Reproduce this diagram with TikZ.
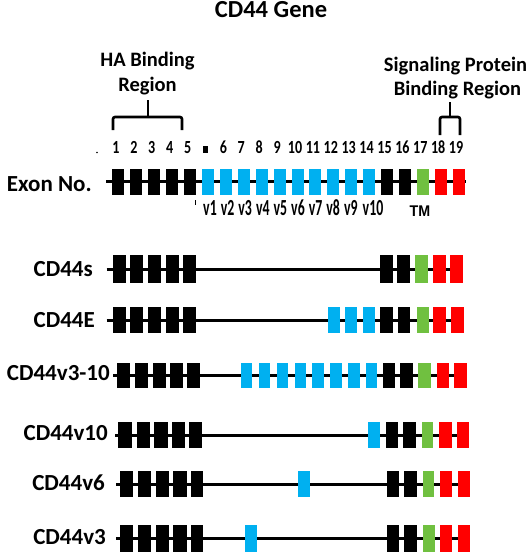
\documentclass[tikz,border=0pt]{standalone}
\usepackage{fontspec}
\setmainfont{Carlito}
\newfontfamily\narrowf[FakeStretch=0.76]{Carlito}
\newfontfamily\vnarrowf[FakeStretch=0.6]{Carlito}
\newfontfamily\tmfont[FakeStretch=0.92]{Liberation Sans}
\definecolor{exblue}{RGB}{0,176,240}
\definecolor{exgreen}{RGB}{112,192,64}
\definecolor{exred}{RGB}{255,0,0}
\begin{document}
\begin{tikzpicture}[x=1pt,y=-1pt,
  rowlbl/.style={font=\fontsize{23}{26}\selectfont\bfseries, inner sep=0pt, anchor=base east},
  headlbl/.style={font=\fontsize{20.5}{24}\selectfont\bfseries, inner sep=0pt, anchor=base},
  numlbl/.style={font=\narrowf\fontsize{18.5}{20}\selectfont\bfseries, inner sep=0pt, anchor=base},
  vlbl/.style={font=\vnarrowf\fontsize{23}{25}\selectfont\bfseries, inner sep=0pt, anchor=base},
  backbone/.style={line width=3pt, black},
  brace/.style={line width=2.6pt, black, rounded corners=2pt}]
\useasboundingbox (0,0) rectangle (529,557);
\fill[white] (0,0) rectangle (529,557);

% title
\node[font=\fontsize{24.5}{28}\selectfont\bfseries, inner sep=0pt, anchor=base] (title) at (271,17.5) {CD44 Gene};

% region headings and brackets
\node[headlbl] (ha1) at (147.5,66.5) {HA Binding};
\node[headlbl] (ha2) at (147.5,91.7) {Region};
\node[headlbl] (sp1) at (455.5,71.7) {Signaling Protein};
\node[headlbl] (sp2) at (457.5,95) {Binding Region};
\coordinate (hat) at (148,100);
\coordinate (spt) at (450,102);
\draw[brace] (113,130) -- (113,117) -- (182,117) -- (182,130);
\draw[line width=2.6pt] (hat) -- (148,117);
\draw[brace] (440,135) -- (440,117) -- (460,117) -- (460,135);
\draw[line width=2.6pt] (spt) -- (450,117);

% exon numbers
\fill (97,152.5) circle (0.9);
\foreach \n in {1,...,5}
  \node[numlbl] (n\n) at ({116+17.9*(\n-1)},153.3) {\n};
\fill (202.7,146) rectangle (207.7,152.7);
\foreach \n in {6,...,19}
  \node[numlbl] (n\n) at ({116+17.9*\n},153.3) {\n};

% exon row
\node[font=\fontsize{23}{26}\selectfont\bfseries, inner sep=0pt, anchor=base west] (exon) at (6.7,191.5) {Exon No.};
\draw[backbone] (106,181.7) -- (466,181.7);
\foreach \i/\c in {0/black,1/black,2/black,3/black,4/black,5/exblue,6/exblue,7/exblue,8/exblue,9/exblue,10/exblue,11/exblue,12/exblue,13/exblue,14/exblue,15/black,16/black,17/exgreen,18/exred,19/exred}
  \fill[\c] ({111.7+17.98*\i},168.5) rectangle ++(12,26.3);
\draw[line width=0.8pt] (195,200) -- (195,204.5);
\foreach \k in {1,...,9}
  \node[vlbl] (v\k) at ({210+17.6*(\k-1)},215.5) {v\k};
\node[vlbl] (v10) at (373,215.5) {v10};
\node[font=\tmfont\fontsize{15.5}{17}\selectfont\bfseries, inner sep=0pt, anchor=base] (tm) at (420,216.5) {TM};

% CD44s
\node[rowlbl] (s) at (93,276.7) {CD44s};
\draw[backbone] (106.7,269) -- (462,269);
\foreach \x/\c in {112.7/black,130/black,147.7/black,165.7/black,183/black,380/black,397/black,415/exgreen,432.7/exred,450/exred}
  \fill[\c] (\x,255) rectangle ++(13,28);

% CD44E
\node[rowlbl] (e) at (95,327.3) {CD44E};
\draw[backbone] (106.7,320) -- (463,320);
\foreach \x/\c/\w in {112.7/black/13,130/black/13,147.7/black/13,165.7/black/13,183/black/13,328/exblue/12,345/exblue/12,362.7/exblue/12,380/black/12.5,397.7/black/12.5,416.7/exgreen/12,433/exred/12.5,451/exred/12.5}
  \fill[\c] (\x,306.7) rectangle ++(\w,26.6);

% CD44v3-10
\node[rowlbl] (v310) at (110,380.7) {CD44v3-10};
\draw[backbone] (113.3,375.5) -- (466,375.5);
\foreach \x/\c/\w in {116.7/black/13,135/black/13,152.7/black/13,170/black/13,187/black/13,240.7/exblue/11.5,258.7/exblue/11.5,276.7/exblue/11.5,294.7/exblue/11.5,312/exblue/11.5,330/exblue/11.5,348/exblue/11.5,365.7/exblue/11.5,382.7/black/12.5,400/black/12.5,418/exgreen/12.5,436.7/exred/12.5,454/exred/12.5}
  \fill[\c] (\x,363) rectangle ++(\w,25);

% CD44v10
\node[rowlbl] (v10r) at (108,440) {CD44v10};
\draw[backbone] (115,435) -- (469,435);
\foreach \x/\c/\w in {118.3/black/13.3,136.7/black/13.3,154.3/black/13.3,172/black/13.3,189.3/black/13,368.3/exblue/11.7,385.7/black/12.6,403.3/black/12.6,421.7/exgreen/11.6,439.3/exred/12.4,456.7/exred/12.6}
  \fill[\c] (\x,421.7) rectangle ++(\w,26.6);

% CD44v6
\node[rowlbl] (v6r) at (105,490) {CD44v6};
\draw[backbone] (116,484) -- (470,484);
\foreach \x/\c/\w in {120/black/13.3,137.7/black/13.3,155.7/black/13.3,173.3/black/13.3,190.7/black/12.6,297.7/exblue/12.3,386.7/black/12.6,404.3/black/12.4,422.7/exgreen/11.6,440/exred/12.3,457.7/exred/12.3}
  \fill[\c] (\x,471) rectangle ++(\w,25.7);

% CD44v3
\node[rowlbl] (v3r) at (106,544) {CD44v3};
\draw[backbone] (116,538) -- (470,538);
\foreach \x/\c/\w in {120/black/13.3,137.7/black/13.3,155.7/black/13.3,173.3/black/13.3,190.7/black/12.6,245/exblue/11.7,386.7/black/12.6,404.3/black/12.4,423.3/exgreen/11.6,440/exred/12.3,457.7/exred/12.3}
  \fill[\c] (\x,525) rectangle ++(\w,26.7);
\end{tikzpicture}
\end{document}
